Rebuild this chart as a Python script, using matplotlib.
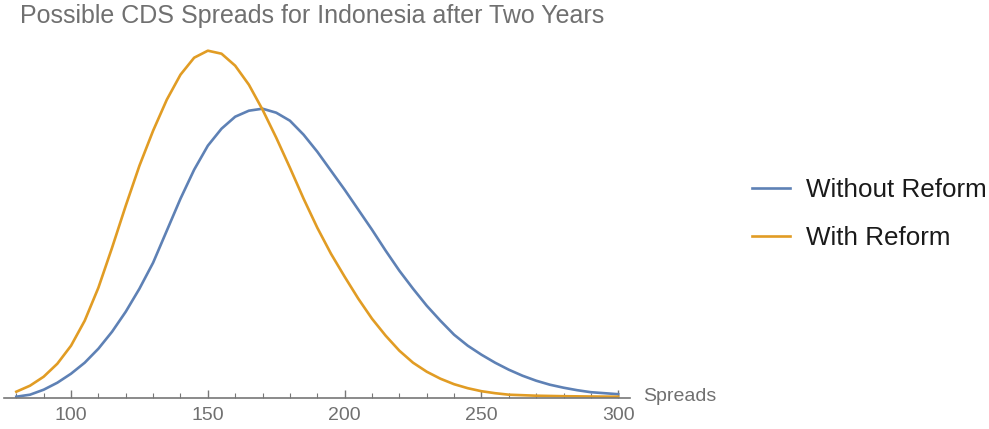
import matplotlib
matplotlib.use("Agg")
import matplotlib.pyplot as plt
from matplotlib.ticker import MultipleLocator

plt.rcParams['font.family'] = ['Liberation Sans', 'DejaVu Sans']

# values (density, arbitrary units)
spreads_without = [80, 85, 90, 95, 100, 105, 110, 115, 120, 125, 130, 135, 140, 145,
                   150, 155, 160, 165, 170, 175, 180, 185, 190, 195, 200, 205, 210,
                   215, 220, 225, 230, 235, 240, 245, 250, 255, 260, 265, 270, 275,
                   280, 285, 290, 295, 300]
density_without = [1, 3, 8, 15, 24, 35, 49, 66, 86, 109, 135, 167, 199, 228,
                   252, 269, 281, 287, 289, 285, 277, 263, 246, 227, 208, 188, 168,
                   147, 127, 109, 92, 77, 63, 52, 43, 35, 28, 22, 17, 13,
                   10, 7.5, 5.5, 4.5, 3.5]

spreads_with = [80, 85, 90, 95, 100, 105, 110, 115, 120, 125, 130, 135, 140, 145,
                150, 155, 160, 165, 170, 175, 180, 185, 190, 195, 200, 205, 210,
                215, 220, 225, 230, 235, 240, 245, 250, 255, 260, 270, 280, 290, 300]
density_with = [6, 12, 21, 34, 52, 77, 110, 150, 192, 232, 267, 298, 323, 340,
                347, 344, 332, 313, 288, 260, 230, 199, 170, 144, 121, 99, 79,
                62, 47, 35, 26, 19, 13.5, 9.5, 6.5, 4.5, 3, 2, 1.5, 1.2, 1]

labels = ['Without Reform', 'With Reform']
colors = ['#5E81B5', '#E19C24']

fig = plt.figure(figsize=(9.89, 4.29), dpi=100)
ax = fig.add_axes((4 / 989, 31.3 / 429, 626 / 989, 360 / 429))

ax.plot(spreads_without, density_without, color=colors[0], lw=1.9, label=labels[0],
        solid_joinstyle='round')
ax.plot(spreads_with, density_with, color=colors[1], lw=1.9, label=labels[1],
        solid_joinstyle='round')

ax.set_xlim(75.5, 304.3)
ax.set_ylim(0, 360)

for side in ['left', 'right', 'top']:
    ax.spines[side].set_visible(False)
ax.spines['bottom'].set_color('#777777')
ax.spines['bottom'].set_linewidth(1.2)
ax.set_yticks([])
ax.xaxis.set_major_locator(MultipleLocator(50))
ax.xaxis.set_minor_locator(MultipleLocator(10))
ax.tick_params(axis='x', which='major', direction='in', length=6, width=1,
               color='#777777', labelsize=14, labelcolor='#707070', pad=7)
ax.tick_params(axis='x', which='minor', direction='in', length=3.5, width=0.8,
               color='#777777')

ax.annotate('Spreads', xy=(1, 0), xycoords='axes fraction',
            xytext=(13, 1), textcoords='offset pixels',
            ha='left', va='center', fontsize=14, color='#707070')

fig.text(20 / 989, 1 - 16 / 429, 'Possible CDS Spreads for Indonesia after Two Years',
         ha='left', va='center', fontsize=18, color='#707070')

leg = fig.legend(loc='center left', bbox_to_anchor=(752 / 989, 1 - 214 / 429),
                 frameon=False, fontsize=18.7, handlelength=1.46, handletextpad=0.62,
                 labelspacing=0.9, borderpad=0, borderaxespad=0)
for t in leg.get_texts():
    t.set_color('#1a1a1a')

fig.savefig('out.png', dpi=100)
